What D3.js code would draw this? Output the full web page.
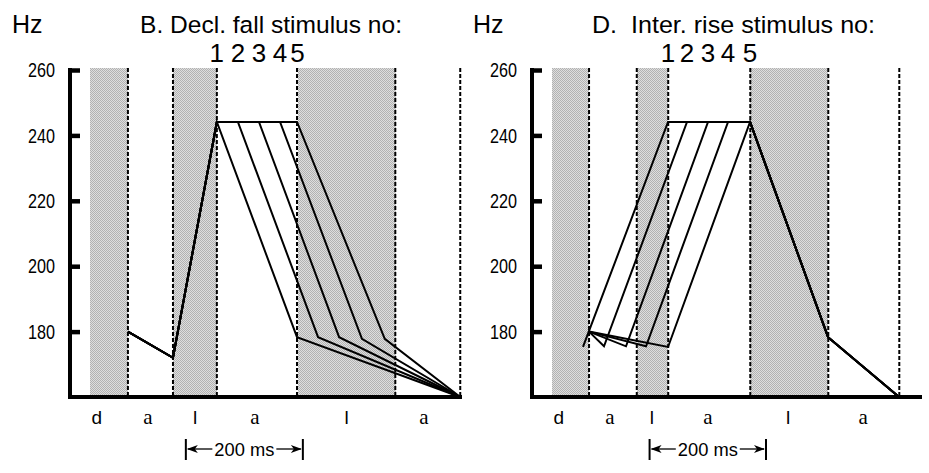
<!DOCTYPE html>
<html><head><meta charset="utf-8">
<script src="https://cdn.jsdelivr.net/npm/d3@7"></script>
<style>
html,body{margin:0;padding:0;background:#fff;}
text{font-family:"Liberation Sans",Arial,Helvetica,sans-serif;fill:#000;}
</style></head>
<body><svg id="c" width="929" height="473"></svg>
<script>
// ---------- data ----------
const hzTicks = [180, 200, 220, 240, 260];
const stimulusNumbers = ["1", "2", "3", "4", "5"];
const segmentLabels = ["d", "a", "l", "a", "l", "a"];

// Panel B: declination fall
const titleB = "B. Decl. fall stimulus no:";
const boundariesB = [99, 176, 251, 388, 556, 667];          // ms
const shadesB = [[34, 99], [176, 251], [389, 556]];          // ms
const segLabelMsB = [46, 133, 214, 316, 473, 605];           // ms
const scaleBarStartB = 198;                                  // ms
const stimuliB = [
  [[99,180],[176,172],[251,244.1],[251,244.1],[388,178.3],[667,160]],
  [[99,180],[176,172],[251,244.1],[287,244.1],[424,178.3],[667,160]],
  [[99,180],[176,172],[251,244.1],[323,244.1],[460,178.3],[667,160]],
  [[99,180],[176,172],[251,244.1],[359,244.1],[499,177.8],[667,160]],
  [[99,180],[176,172],[251,244.1],[388,244.1],[538,177.8],[667,160]]
];
const peakStartsB = [251, 287, 323, 359, 389];

// Panel D: interruption rise
const titleD = "D.\u00a0 Inter. rise stimulus no:";
const boundariesD = [98, 180, 234, 375, 509, 631];
const shadesD = [[34, 98], [180, 234], [375, 509]];
const segLabelMsD = [46, 134, 206, 302, 440, 569];
const scaleBarStartD = 202;
const stimuliD = [
  [[87.6,175.3],[233.7,244.1],[374.6,244.1],[508.6,178.3],[630.6,160]],
  [[97.9,180],[123.7,175.5],[266.3,244.1],[374.6,244.1],[508.6,178.3],[630.6,160]],
  [[97.9,180],[161.5,175.5],[302.4,244.1],[374.6,244.1],[508.6,178.3],[630.6,160]],
  [[97.9,180],[195.9,175.5],[336.8,244.1],[374.6,244.1],[508.6,178.3],[630.6,160]],
  [[97.9,180],[233.7,175.3],[374.6,244.1],[508.6,178.3],[630.6,160]]
];
const peakEndsD = [233.7, 266.3, 302.4, 336.8, 374.6];

// ---------- drawing ----------
const svg = d3.select("#c");
const defs = svg.append("defs");
const pat = defs.append("pattern").attr("id","stip").attr("patternUnits","userSpaceOnUse")
  .attr("width",2).attr("height",2);
pat.append("rect").attr("width",2).attr("height",2).attr("fill","#dedede");
pat.append("rect").attr("x",0).attr("y",0).attr("width",1).attr("height",1).attr("fill","#b2b2b2");
pat.append("rect").attr("x",1).attr("y",1).attr("width",1).attr("height",1).attr("fill","#b2b2b2");

const y = d3.scaleLinear().domain([160, 260]).range([397, 70]);

function panel(o) {
  const x = d3.scaleLinear().domain([0, 670]).range([o.x0, o.x1]);
  const g = svg.append("g");
  const top = y(260) - 2, bot = y(160);

  // shaded regions
  g.selectAll("rect.sh").data(o.shades).join("rect")
    .attr("x", d => Math.round(x(d[0]))).attr("width", d => Math.round(x(d[1]) - x(d[0])))
    .attr("y", top).attr("height", bot - top).attr("fill", "url(#stip)");

  // dashed boundaries
  g.selectAll("line.b").data(o.bounds).join("line")
    .attr("x1", d => x(d)).attr("x2", d => x(d))
    .attr("y1", top).attr("y2", bot)
    .attr("stroke", "#000").attr("stroke-width", 2).attr("stroke-dasharray", "4,2");

  // stimulus contours
  const line = d3.line().x(d => x(d[0])).y(d => y(d[1]));
  g.selectAll("path.s").data(o.stimuli).join("path")
    .attr("d", line).attr("fill", "none").attr("stroke", "#000")
    .attr("stroke-width", 2).attr("stroke-linejoin", "miter");

  // y axis
  const ax = d3.axisRight(y).tickValues(hzTicks).tickSize(10).tickFormat("");
  const ag = g.append("g").attr("transform", `translate(${o.x0},0)`).call(ax);
  ag.select(".domain").remove();
  ag.selectAll(".tick line").attr("stroke", "#000").attr("stroke-width", 4.5);
  g.append("line").attr("x1", o.x0).attr("x2", o.x0).attr("y1", y(260) - 2).attr("y2", bot + 2)
    .attr("stroke", "#000").attr("stroke-width", 4);
  g.selectAll("text.t").data(hzTicks).join("text")
    .attr("x", o.x0 - 15).attr("y", d => y(d)).attr("dy", "0.36em")
    .attr("text-anchor", "end").attr("font-size", 20)
    .attr("textLength", 27).attr("lengthAdjust", "spacingAndGlyphs")
    .text(d => d);

  // x axis
  g.append("line").attr("x1", o.x0 - 2).attr("x2", o.x1).attr("y1", bot).attr("y2", bot)
    .attr("stroke", "#000").attr("stroke-width", 4);

  // segment labels
  g.selectAll("text.sl").data(segmentLabels).join("text")
    .attr("x", (d, i) => x(o.segMs[i])).attr("y", 424)
    .attr("text-anchor", "middle")
    .attr("font-size", d => d === "a" ? 21 : 19)
    .style("font-family", d => d === "a" ? "'Liberation Serif','Times New Roman',serif" : null)
    .text(d => d);

  // titles
  g.append("text").attr("x", o.hzX).attr("y", 33).attr("font-size", 25).text("Hz");
  g.append("text").attr("x", o.titleX).attr("y", 33).attr("font-size", 24.5)
    .attr("textLength", o.titleW).attr("lengthAdjust", "spacingAndGlyphs").text(o.title);
  g.selectAll("text.n").data(stimulusNumbers).join("text")
    .attr("x", (d, i) => x(o.numMs[i])).attr("y", 62)
    .attr("text-anchor", "middle").attr("font-size", 26).text(d => d);

  // 200 ms scale bar
  const sx0 = x(o.sbStart), sx1 = x(o.sbStart + 200), sy = 449;
  const tm = (sx0 + sx1) / 2;
  g.append("line").attr("x1", sx0).attr("x2", sx0).attr("y1", sy - 10).attr("y2", sy + 11)
    .attr("stroke", "#000").attr("stroke-width", 2);
  g.append("line").attr("x1", sx1).attr("x2", sx1).attr("y1", sy - 10).attr("y2", sy + 11)
    .attr("stroke", "#000").attr("stroke-width", 2);
  g.append("line").attr("x1", sx0 + 2).attr("x2", tm - 32).attr("y1", sy).attr("y2", sy)
    .attr("stroke", "#000").attr("stroke-width", 1.3);
  g.append("line").attr("x1", tm + 32).attr("x2", sx1 - 2).attr("y1", sy).attr("y2", sy)
    .attr("stroke", "#000").attr("stroke-width", 1.3);
  g.append("path").attr("d", `M${sx0+1},${sy} L${sx0+12},${sy-4} L${sx0+9},${sy} L${sx0+12},${sy+4}Z`).attr("fill", "#000");
  g.append("path").attr("d", `M${sx1-1},${sy} L${sx1-12},${sy-4} L${sx1-9},${sy} L${sx1-12},${sy+4}Z`).attr("fill", "#000");
  g.append("text").attr("x", tm).attr("y", sy + 7).attr("text-anchor", "middle")
    .attr("font-size", 19).attr("textLength", 60).attr("lengthAdjust", "spacingAndGlyphs").text("200 ms");
}

panel({x0: 70, x1: 462, shades: shadesB, bounds: boundariesB, stimuli: stimuliB,
  segMs: segLabelMsB, sbStart: scaleBarStartB, title: titleB, titleX: 140, titleW: 262, hzX: 12,
  numMs: peakStartsB});
panel({x0: 532, x1: 922, shades: shadesD, bounds: boundariesD, stimuli: stimuliD,
  segMs: segLabelMsD, sbStart: scaleBarStartD, title: titleD, titleX: 592, titleW: 283, hzX: 473,
  numMs: peakEndsD});
</script></body></html>
